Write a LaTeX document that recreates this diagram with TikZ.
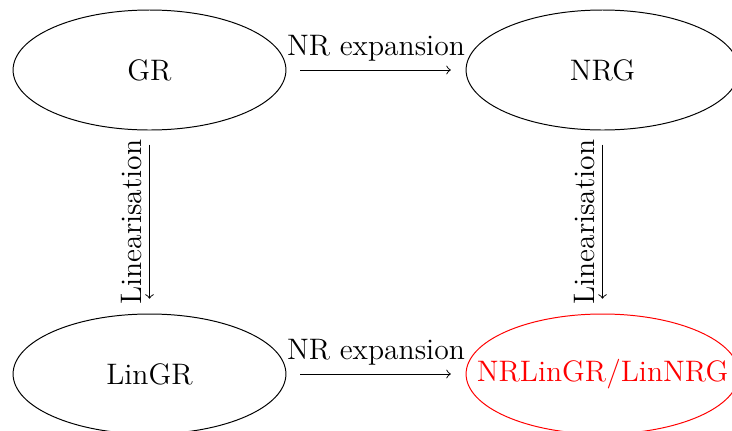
\documentclass[tikz,border=0pt]{standalone}
\usetikzlibrary{shapes.geometric}
\begin{document}
\begin{tikzpicture}[x=0.405pt,y=-0.405pt,font=\large,
  oval/.style={draw,ellipse,minimum width=110.5pt,minimum height=48.6pt,inner sep=0pt},
  txt/.style={inner sep=0pt},
  arr/.style={->,shorten <=5.7pt,shorten >=6pt},
  lab/.style={midway,above,inner sep=3.3pt},
  vlab/.style={midway,above,rotate=90,inner sep=2.8pt}]
\useasboundingbox (0,0) rectangle (732,430);
\clip (0,0) rectangle (732,430);
\node[oval] (GR) at (149.5,70) {};
\node[oval] (NRG) at (602.5,70) {};
\node[oval] (LinGR) at (149.5,374) {};
\node[oval,red] (NRLin) at (602.5,374) {};
\node[txt] (tGR) at (GR) {GR};
\node[txt] (tNRG) at (NRG) {NRG};
\node[txt] (tLinGR) at (LinGR) {LinGR};
\node[txt,red] (tNRLin) at (NRLin) {NRLinGR/LinNRG};
\draw[arr] (GR) -- (NRG) node[lab] {NR expansion};
\draw[arr] (LinGR) -- (NRLin) node[lab] {NR expansion};
\draw[arr] (GR) -- (LinGR) node[vlab] {Linearisation};
\draw[arr] (NRG) -- (NRLin) node[vlab] {Linearisation};
\end{tikzpicture}
\end{document}
